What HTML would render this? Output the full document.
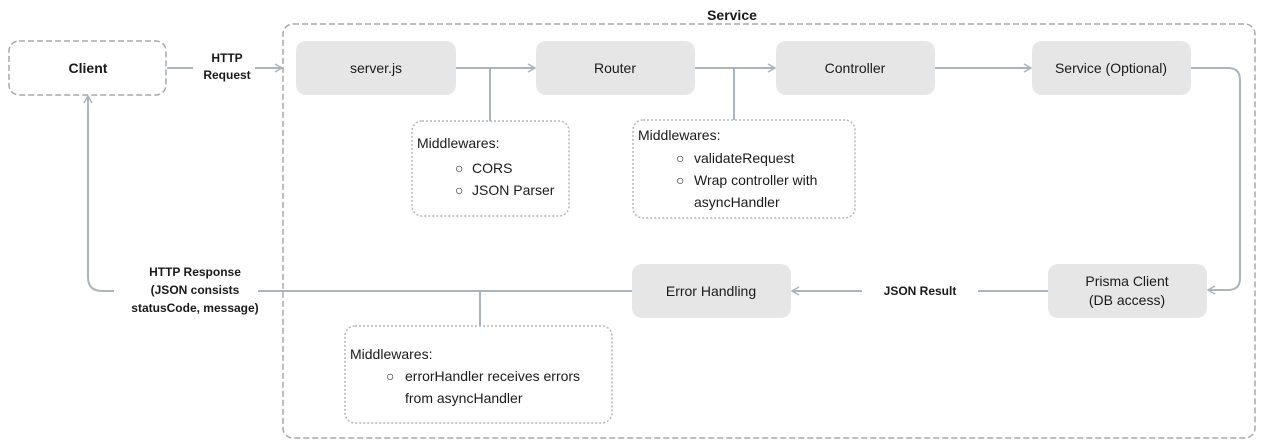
<!DOCTYPE html>
<html><head><meta charset="utf-8"><style>
body{margin:0;background:#fff}
svg{display:block;font-family:"Liberation Sans",Arial,sans-serif}
</style></head><body>
<svg width="1271" height="447" viewBox="0 0 1271 447" xmlns="http://www.w3.org/2000/svg">
<defs><marker id="a" markerWidth="10" markerHeight="10" refX="8" refY="5" orient="auto" markerUnits="userSpaceOnUse"><path d="M1,1 L8,5 L1,9" fill="none" stroke="#a9b4bd" stroke-width="1.5"/></marker></defs>
<g fill="none" stroke="#a9b4bd" stroke-width="2">
<rect x="283" y="24" width="972" height="414" rx="10" stroke="#a8a8a8" stroke-width="1.5" stroke-dasharray="6,3"/>
<rect x="9" y="41" width="157" height="54" rx="10" stroke="#a8a8a8" stroke-width="1.5" stroke-dasharray="6,3"/>
<line x1="167" y1="68" x2="193" y2="68"/>
<line x1="255" y1="68" x2="282" y2="68" marker-end="url(#a)"/>
<line x1="456" y1="68" x2="535" y2="68" marker-end="url(#a)"/>
<line x1="695" y1="68" x2="775" y2="68" marker-end="url(#a)"/>
<line x1="935" y1="68" x2="1031" y2="68" marker-end="url(#a)"/>
<line x1="490" y1="68" x2="490" y2="121"/>
<line x1="734" y1="68" x2="734" y2="120"/>
<path d="M1191,68 H1228 Q1240,68 1240,80 V278 Q1240,290 1228,290 H1208" marker-end="url(#a)"/>
<line x1="1048" y1="291" x2="978" y2="291"/>
<line x1="862" y1="291" x2="792" y2="291" marker-end="url(#a)"/>
<line x1="632" y1="291" x2="258" y2="291"/>
<path d="M114,291 H102 Q88,291 88,277 V96" marker-end="url(#a)"/>
<line x1="480" y1="291" x2="480" y2="326"/>
<rect x="412" y="121" width="157" height="95" rx="10" stroke="#b5b5b5" stroke-width="1.5" stroke-dasharray="2,2"/>
<rect x="633" y="120" width="222" height="98" rx="10" stroke="#b5b5b5" stroke-width="1.5" stroke-dasharray="2,2"/>
<rect x="345" y="326" width="267" height="97" rx="10" stroke="#b5b5b5" stroke-width="1.5" stroke-dasharray="2,2"/>
</g>
<g fill="#e6e6e6">
<rect x="296" y="41" width="160" height="54" rx="10"/>
<rect x="536" y="41" width="159" height="54" rx="10"/>
<rect x="776" y="41" width="159" height="54" rx="10"/>
<rect x="1032" y="41" width="159" height="54" rx="10"/>
<rect x="1048" y="264" width="159" height="54" rx="10"/>
<rect x="632" y="264" width="159" height="54" rx="10"/>
</g>
<g fill="#1a1a1a" font-size="14" text-anchor="middle">
<text x="732" y="20" font-weight="bold">Service</text>
<text x="88" y="73" font-weight="bold">Client</text>
<text x="376" y="73">server.js</text>
<text x="615" y="73">Router</text>
<text x="855" y="73">Controller</text>
<text x="1111" y="73">Service (Optional)</text>
<text x="1127" y="286">Prisma Client</text>
<text x="1127" y="305">(DB access)</text>
<text x="711" y="296">Error Handling</text>
<g font-size="12" font-weight="bold">
<text x="227" y="62">HTTP</text>
<text x="227" y="79">Request</text>
<text x="920" y="295">JSON Result</text>
<text x="195" y="276">HTTP Response</text>
<text x="195" y="294">(JSON consists</text>
<text x="195" y="312">statusCode, message)</text>
</g>
</g>
<g fill="#1a1a1a" font-size="14">
<text x="417" y="148">Middlewares:</text>
<text x="455" y="173">○</text><text x="472" y="173">CORS</text>
<text x="455" y="195">○</text><text x="472" y="195">JSON Parser</text>
<text x="638" y="140">Middlewares:</text>
<text x="676" y="163">○</text><text x="694" y="163">validateRequest</text>
<text x="676" y="185">○</text><text x="694" y="185">Wrap controller with</text>
<text x="694" y="207">asyncHandler</text>
<text x="350" y="359">Middlewares:</text>
<text x="386" y="381">○</text><text x="405" y="381">errorHandler receives errors</text>
<text x="405" y="403">from asyncHandler</text>
</g>
</svg>
</body></html>
